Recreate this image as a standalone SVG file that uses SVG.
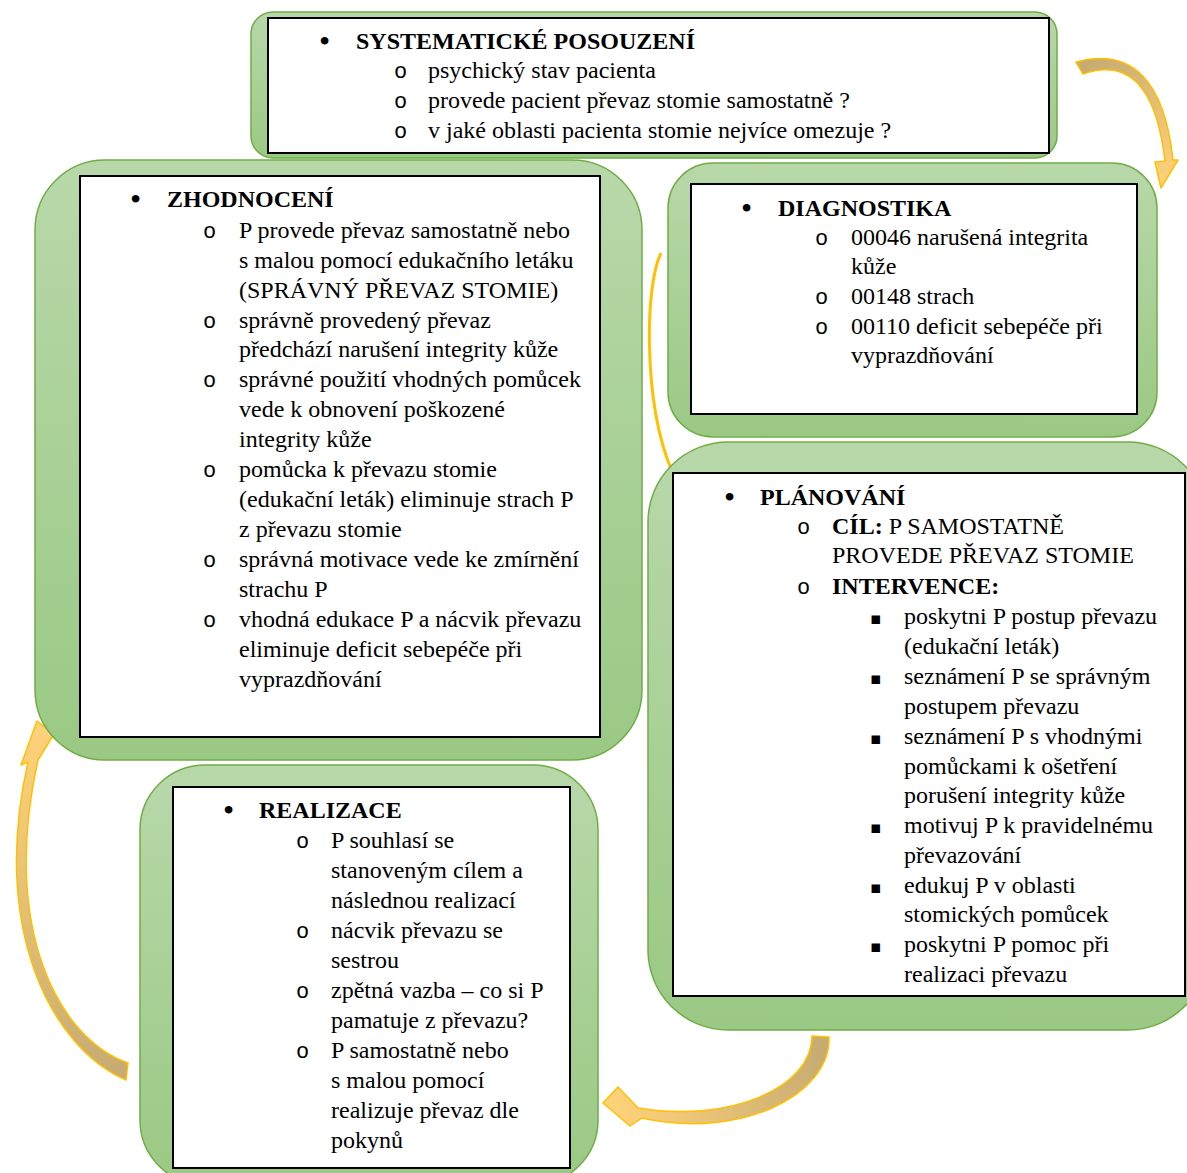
<svg xmlns="http://www.w3.org/2000/svg" width="1187" height="1173" viewBox="0 0 1187 1173">
<defs>
<linearGradient id="gg" x1="0" y1="0" x2="0" y2="1">
<stop offset="0" stop-color="#b8d8aa"/>
<stop offset="1" stop-color="#9ac984"/>
</linearGradient>
<linearGradient id="a1" gradientUnits="userSpaceOnUse" x1="1080" y1="68" x2="1165" y2="185">
<stop offset="0" stop-color="#c6ab72"/><stop offset="1" stop-color="#ffd27a"/>
</linearGradient>
<linearGradient id="a3" gradientUnits="userSpaceOnUse" x1="822" y1="1040" x2="610" y2="1105">
<stop offset="0" stop-color="#c6ab72"/><stop offset="1" stop-color="#ffd27a"/>
</linearGradient>
<linearGradient id="a4" gradientUnits="userSpaceOnUse" x1="120" y1="1075" x2="38" y2="725">
<stop offset="0" stop-color="#c6ab72"/><stop offset="1" stop-color="#ffd27a"/>
</linearGradient>
<style>
.g{fill:url(#gg);stroke:#70ad47;stroke-width:1.5}
.w{fill:#fff;stroke:#000;stroke-width:2}
text{font-family:"Liberation Serif","Times New Roman",serif;font-size:24px;fill:#000}
.b{font-weight:bold}
.bu{font-size:32px}
.o{font-family:"Liberation Mono","Courier New",monospace;font-size:22px}
.sq{font-family:"DejaVu Sans",sans-serif;font-size:17px}
.arr{stroke:#ffc000;stroke-width:1.5;stroke-linejoin:round}
</style>
</defs>
<rect width="1187" height="1173" fill="#fff"/>

<g id="connectors">
<path class="arr" fill="url(#a1)" d="M1076,62 Q1160,40 1173,160 L1178,160 L1161,188 L1155,162 L1165,161 Q1152,50 1083,74 Z"/>
<path fill="none" stroke="#ffc000" stroke-width="3" d="M661,253 C645,285 643,400 671,469"/>
<path class="arr" fill="url(#a3)" d="M829,1037 C831,1095 740,1140 642,1118 L630,1126 L603,1103 L618,1087 L638,1108 C730,1123 812,1088 812,1036 Z"/>
<path class="arr" fill="url(#a4)" d="M128,1063 C60,1040 0,930 38,760 L54,734 L37,721 L21,765 L28,762 C-10,930 52,1048 126,1080 Z"/>
</g>

<g id="systematicke-posouzeni">
<rect class="g" x="251" y="12" width="806" height="146" rx="22"/>
<rect class="w" x="268" y="18" width="781" height="135"/>
<text class="bu" x="319" y="52">•</text>
<text class="b" x="356" y="49">SYSTEMATICKÉ POSOUZENÍ</text>
<text class="o" x="394" y="78">o</text><text x="428" y="78">psychický stav pacienta</text>
<text class="o" x="394" y="108">o</text><text x="428" y="108">provede pacient převaz stomie samostatně ?</text>
<text class="o" x="394" y="138">o</text><text x="428" y="138">v jaké oblasti pacienta stomie nejvíce omezuje ?</text>
</g>

<g id="zhodnoceni">
<rect class="g" x="35" y="160" width="607" height="600" rx="70"/>
<rect class="w" x="80" y="176" width="520" height="561"/>
<text class="bu" x="130" y="210">•</text>
<text class="b" x="167" y="207">ZHODNOCENÍ</text>
<text class="o" x="203" y="238">o</text><text x="239" y="238">P provede převaz samostatně nebo</text>
<text x="239" y="268">s malou pomocí edukačního letáku</text>
<text x="239" y="298">(SPRÁVNÝ PŘEVAZ STOMIE)</text>
<text class="o" x="203" y="328">o</text><text x="239" y="328">správně provedený převaz</text>
<text x="239" y="357">předchází narušení integrity kůže</text>
<text class="o" x="203" y="387">o</text><text x="239" y="387">správné použití vhodných pomůcek</text>
<text x="239" y="417">vede k obnovení poškozené</text>
<text x="239" y="447">integrity kůže</text>
<text class="o" x="203" y="477">o</text><text x="239" y="477">pomůcka k převazu stomie</text>
<text x="239" y="507">(edukační leták) eliminuje strach P</text>
<text x="239" y="537">z převazu stomie</text>
<text class="o" x="203" y="567">o</text><text x="239" y="567">správná motivace vede ke zmírnění</text>
<text x="239" y="597">strachu P</text>
<text class="o" x="203" y="627">o</text><text x="239" y="627">vhodná edukace P a nácvik převazu</text>
<text x="239" y="657">eliminuje deficit sebepéče při</text>
<text x="239" y="687">vyprazdňování</text>
</g>

<g id="diagnostika">
<rect class="g" x="668" y="163" width="489" height="274" rx="45"/>
<rect class="w" x="691" y="184" width="446" height="230"/>
<text class="bu" x="741" y="219">•</text>
<text class="b" x="778" y="216">DIAGNOSTIKA</text>
<text class="o" x="815" y="245">o</text><text x="851" y="245">00046 narušená integrita</text>
<text x="851" y="274">kůže</text>
<text class="o" x="815" y="304">o</text><text x="851" y="304">00148 strach</text>
<text class="o" x="815" y="334">o</text><text x="851" y="334">00110 deficit sebepéče při</text>
<text x="851" y="363">vyprazdňování</text>
</g>

<g id="planovani">
<rect class="g" x="648" y="442" width="560" height="588" rx="80"/>
<rect class="w" x="673" y="473" width="512" height="523"/>
<text class="bu" x="724" y="508">•</text>
<text class="b" x="760" y="505">PLÁNOVÁNÍ</text>
<text class="o" x="797" y="534">o</text><text x="832" y="534"><tspan class="b">CÍL:</tspan> P SAMOSTATNĚ</text>
<text x="832" y="563">PROVEDE PŘEVAZ STOMIE</text>
<text class="o" x="797" y="594">o</text><text class="b" x="832" y="594">INTERVENCE:</text>
<text class="sq" x="870" y="624">▪</text><text x="904" y="624">poskytni P postup převazu</text>
<text x="904" y="654">(edukační leták)</text>
<text class="sq" x="870" y="684">▪</text><text x="904" y="684">seznámení P se správným</text>
<text x="904" y="714">postupem převazu</text>
<text class="sq" x="870" y="744">▪</text><text x="904" y="744">seznámení P s vhodnými</text>
<text x="904" y="774">pomůckami k ošetření</text>
<text x="904" y="803">porušení integrity kůže</text>
<text class="sq" x="870" y="833">▪</text><text x="904" y="833">motivuj P k pravidelnému</text>
<text x="904" y="863">převazování</text>
<text class="sq" x="870" y="893">▪</text><text x="904" y="893">edukuj P v oblasti</text>
<text x="904" y="922">stomických pomůcek</text>
<text class="sq" x="870" y="952">▪</text><text x="904" y="952">poskytni P pomoc při</text>
<text x="904" y="982">realizaci převazu</text>
</g>

<g id="realizace">
<rect class="g" x="140" y="765" width="458" height="420" rx="65"/>
<rect class="w" x="173" y="787" width="397" height="381"/>
<text class="bu" x="223" y="821">•</text>
<text class="b" x="259" y="818">REALIZACE</text>
<text class="o" x="296" y="848">o</text><text x="331" y="848">P souhlasí se</text>
<text x="331" y="878">stanoveným cílem a</text>
<text x="331" y="908">následnou realizací</text>
<text class="o" x="296" y="938">o</text><text x="331" y="938">nácvik převazu se</text>
<text x="331" y="968">sestrou</text>
<text class="o" x="296" y="998">o</text><text x="331" y="998">zpětná vazba – co si P</text>
<text x="331" y="1028">pamatuje z převazu?</text>
<text class="o" x="296" y="1058">o</text><text x="331" y="1058">P samostatně nebo</text>
<text x="331" y="1088">s malou pomocí</text>
<text x="331" y="1118">realizuje převaz dle</text>
<text x="331" y="1148">pokynů</text>
</g>
</svg>
